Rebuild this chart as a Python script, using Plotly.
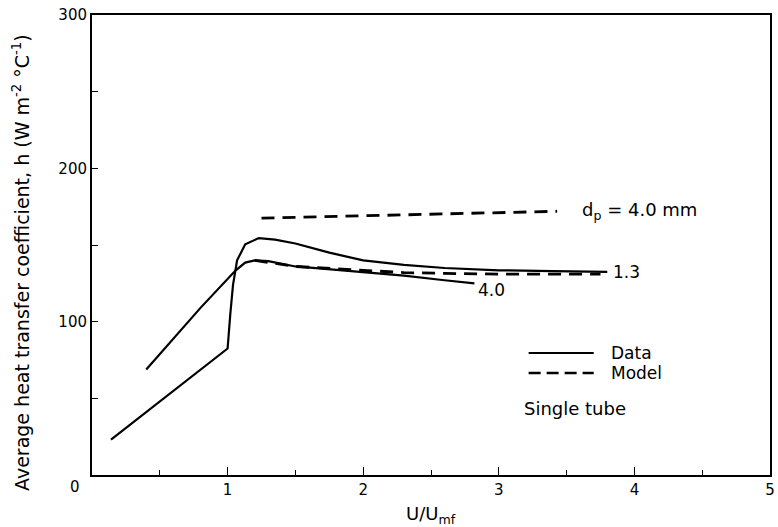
import plotly.graph_objects as go

# Data
data13_x = [0.14, 1.0, 1.02, 1.04, 1.07, 1.13, 1.23, 1.35, 1.5, 1.75, 2.0, 2.3, 2.6, 3.0, 3.4, 3.8]
data13_y = [23, 82.5, 105, 124, 140, 150.5, 154.5, 153.5, 151, 145, 140, 137, 135, 133.5, 133, 132.5]
data40_x = [0.40, 0.8, 1.06, 1.13, 1.2, 1.3, 1.5, 1.75, 2.0, 2.3, 2.6, 2.82]
data40_y = [68.8, 109, 133.5, 138.5, 140, 139.5, 136, 134, 132.3, 130, 127, 125]
model13_x = [1.2, 1.5, 2.0, 2.3, 2.6, 3.0, 3.5, 3.75]
model13_y = [140, 136, 133.5, 132, 131.5, 131, 131, 131]
model40_x = [1.25, 3.43]
model40_y = [167.5, 172]

x_ticks = [1, 2, 3, 4, 5]
y_ticks = [100, 200, 300]

FONT = "DejaVu Sans"
fig = go.Figure()
solid = dict(color="black", width=2.2)
dashed = dict(color="black", width=2.8, dash="13px,8px")
fig.add_trace(go.Scatter(x=data13_x, y=data13_y, mode="lines", line=solid, showlegend=False))
fig.add_trace(go.Scatter(x=data40_x, y=data40_y, mode="lines", line=solid, showlegend=False))
fig.add_trace(go.Scatter(x=model13_x, y=model13_y, mode="lines", line=dashed, showlegend=False))
fig.add_trace(go.Scatter(x=model40_x, y=model40_y, mode="lines", line=dashed, showlegend=False))

ann = []
def text(x, y, s, xref="x", yref="y", xanchor="left", size=16, angle=0):
    ann.append(dict(x=x, y=y, xref=xref, yref=yref, text=s, showarrow=False, textangle=angle,
                    xanchor=xanchor, yanchor="middle", font=dict(size=size, color="black", family=FONT)))

text(3.6, 172, "d<sub>p</sub> = 4.0 mm", size=18)
text(3.83, 132.5, "1.3", size=17)
text(2.83, 120.5, "4.0", size=17)
text(3.81, 79.5, "Data", size=17)
text(3.81, 66.5, "Model", size=17)
text(3.17, 43.5, "Single tube", size=18)
text(-0.025, -0.027, "0", xref="paper", yref="paper", xanchor="center", size=15)
text(-0.104, 0.462, "Average heat transfer coefficient, h (W m<sup>-2</sup> °C<sup>-1</sup>)",
     xref="paper", yref="paper", xanchor="center", size=19, angle=-90)
text(0.5, -0.087, "U/U<sub>mf</sub>", xref="paper", yref="paper", xanchor="center", size=18)

shapes = [
    dict(type="line", xref="x", yref="y", x0=3.22, x1=3.7, y0=79.5, y1=79.5, line=dict(color="black", width=2)),
    dict(type="line", xref="x", yref="y", x0=3.22, x1=3.7, y0=66.5, y1=66.5, line=dict(color="black", width=2.6, dash="12px,6px")),
]

fig.update_layout(
    width=778, height=527,
    margin=dict(l=92, r=3, t=15, b=52),
    paper_bgcolor="white", plot_bgcolor="white",
    font=dict(family=FONT, size=15, color="black"),
    annotations=ann, shapes=shapes,
    xaxis=dict(range=[0, 5], tickvals=x_ticks, ticks="inside", ticklen=8, tickwidth=1.2,
               tickcolor="black", showline=True, linecolor="black", linewidth=2, mirror=True,
               showgrid=False, zeroline=False, tickfont=dict(size=15),
               minor=dict(tickvals=[0.5, 1.5, 2.5, 3.5, 4.5], ticks="inside", ticklen=5, tickcolor="black")),
    yaxis=dict(range=[0, 300], tickvals=y_ticks, ticks="inside", ticklen=6, tickwidth=1.2,
               tickcolor="black", showline=True, linecolor="black", linewidth=2, mirror=True,
               showgrid=False, zeroline=False, tickfont=dict(size=15),
               minor=dict(tickvals=[50, 150, 250], ticks="inside", ticklen=6, tickcolor="black")),
)

fig.write_html("out.html")
